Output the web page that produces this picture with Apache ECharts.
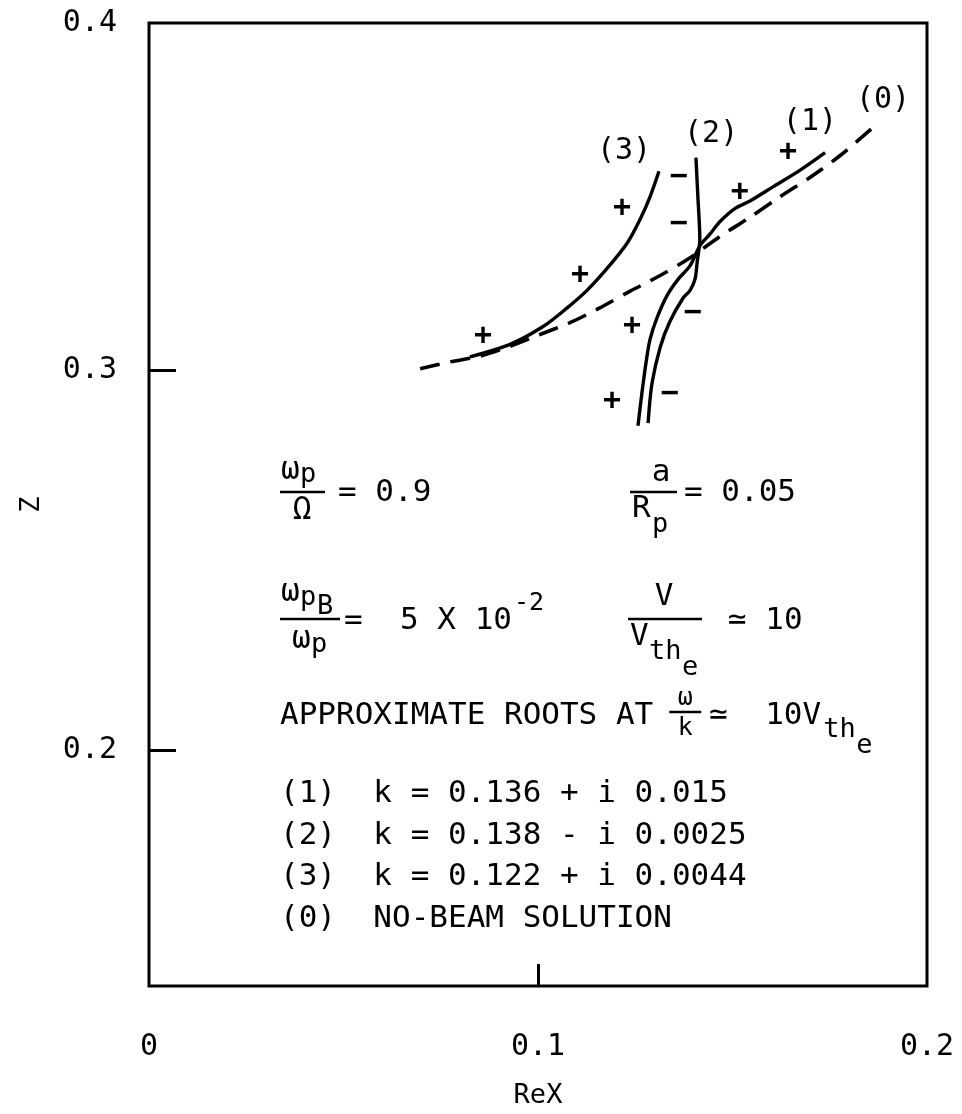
<!DOCTYPE html>
<html>
<head>
<meta charset="utf-8">
<script src="https://cdn.jsdelivr.net/npm/echarts@6/dist/echarts.min.js"></script>
<style>
  html, body { margin: 0; padding: 0; background: #fff; }
  #chart { width: 962px; height: 1114px; }
</style>
</head>
<body>
<div id="chart"></div>
<script>
// Axis ranges and tick labels
const X_MIN = 0, X_MAX = 0.2;
const Y_MIN = 0.138, Y_MAX = 0.3912;
const xTickValues = [0, 0.1, 0.2];
const xTickLabels = ['0', '0.1', '0.2'];
const xTickMarks = [0.1];
const yTickValues = [0.2, 0.3, Y_MAX];
const yTickLabels = ['0.2', '0.3', '0.4'];
const yTickMarks = [0.2, 0.3];

// (0) no-beam solution, dashed
const curve0 = [
  [0.0697, 0.3003], [0.0774, 0.3021], [0.0851, 0.3036], [0.0928, 0.3062],
  [0.1005, 0.3093], [0.1082, 0.3124], [0.1159, 0.3163], [0.1237, 0.3207],
  [0.1314, 0.3248], [0.1391, 0.3295], [0.1468, 0.3351], [0.1545, 0.3401],
  [0.1622, 0.3455], [0.1699, 0.3506], [0.1776, 0.3563], [0.1875, 0.3650]
];
// (1) root k = 0.136 + i 0.015
const curve1 = [
  [0.1257, 0.2853], [0.1267, 0.2938], [0.1278, 0.3021], [0.1288, 0.3080],
  [0.1306, 0.3137], [0.1332, 0.3196], [0.1360, 0.3238], [0.1391, 0.3274],
  [0.1416, 0.3326], [0.1442, 0.3357], [0.1468, 0.3390], [0.1506, 0.3424],
  [0.1545, 0.3444], [0.1604, 0.3481], [0.1674, 0.3525], [0.1738, 0.3571]
];
// (2) root k = 0.138 - i 0.0025
const curve2 = [
  [0.1406, 0.3558], [0.1411, 0.3455], [0.1416, 0.3344], [0.1409, 0.3282],
  [0.1404, 0.3240], [0.1391, 0.3209], [0.1373, 0.3189], [0.1339, 0.3127],
  [0.1314, 0.3059], [0.1293, 0.2964], [0.1283, 0.2860]
];
// (3) root k = 0.122 + i 0.0044
const curve3 = [
  [0.0825, 0.3034], [0.0928, 0.3067], [0.1013, 0.3114], [0.1075, 0.3163],
  [0.1126, 0.3209], [0.1177, 0.3266], [0.1229, 0.3333], [0.1262, 0.3395],
  [0.1288, 0.3455], [0.1311, 0.3522]
];
// sign marks beside the branches
const plusSigns = [
  [0.1216, 0.3424], [0.1108, 0.3248], [0.0859, 0.3088], [0.1242, 0.3114],
  [0.1190, 0.2917], [0.1519, 0.3468], [0.1643, 0.3571]
];
const minusSigns = [
  [0.1362, 0.3506], [0.1362, 0.3382], [0.1398, 0.3150], [0.1339, 0.2935]
];
// branch tags
const tagNames = ['(3)', '(2)', '(1)', '(0)'];
const tagPositions = [[0.1221, 0.3576], [0.1445, 0.3620], [0.1699, 0.3651], [0.1887, 0.3708]];

const MONO = '"DejaVu Sans Mono", monospace';

function pickLabel(values, labels) {
  return function (v) {
    for (let i = 0; i < values.length; i++) {
      if (Math.abs(values[i] - v) < 1e-6) return labels[i];
    }
    return '';
  };
}

// Annotation block helpers (pixel layout)
function T(x, y, text, size, align) {
  return {
    type: 'text', x: x, y: y, silent: true,
    style: {
      text: text, fill: '#000', font: size + 'px ' + MONO,
      align: align || 'left', verticalAlign: 'middle'
    }
  };
}
function Bar(x1, x2, y) {
  return {
    type: 'line', silent: true,
    shape: { x1: x1, y1: y, x2: x2, y2: y },
    style: { stroke: '#000', lineWidth: 2.5 }
  };
}

const FS = 31;          // main annotation size
const SUB = 27;         // subscript size
const PITCH = 18.66;    // advance of one character at FS
const L = 280;
const rowA = 492, rowB = 619, rowC = 716;
const rows = [794, 836, 877, 919];
const rootLines = [
  '(1)  k = 0.136 + i 0.015',
  '(2)  k = 0.138 - i 0.0025',
  '(3)  k = 0.122 + i 0.0044',
  '(0)  NO-BEAM SOLUTION'
];

const notes = [];
// ωp / Ω = 0.9
notes.push(T(L + 1, rowA - 21, 'ω', FS), T(L + 20, rowA - 17, 'p', SUB));
notes.push(Bar(L, L + 45, rowA));
notes.push(T(L + 22, rowA + 19, 'Ω', FS, 'center'));
notes.push(T(L + 58, rowA + 1, '= 0.9', FS));
// a / Rp = 0.05
const aL = 630;
notes.push(T(aL + 31, rowA - 19, 'a', FS, 'center'));
notes.push(Bar(aL, aL + 47, rowA));
notes.push(T(aL + 2, rowA + 17, 'R', FS), T(aL + 22, rowA + 33, 'p', SUB));
notes.push(T(aL + 54, rowA + 1, '= 0.05', FS));
// ωpB / ωp = 5 X 10^-2
notes.push(T(L + 1, rowB - 26, 'ω', FS), T(L + 20, rowB - 21, 'p', SUB), T(L + 37, rowB - 12, 'B', SUB));
notes.push(Bar(L, L + 60, rowB));
notes.push(T(L + 12, rowB + 21, 'ω', FS), T(L + 31, rowB + 26, 'p', SUB));
notes.push(T(L + 64, rowB + 2, '=  5 X 10', FS));
notes.push(T(L + 64 + 9 * PITCH + 2, rowB - 16, '-2', 25));
// V / Vthe ≃ 10
const vL = 628;
notes.push(T(vL + 36, rowB - 22, 'V', FS, 'center'));
notes.push(Bar(vL, vL + 74, rowB));
notes.push(T(vL + 2, rowB + 18, 'V', FS), T(vL + 21, rowB + 33, 'th', SUB), T(vL + 54, rowB + 49, 'e', SUB));
notes.push(T(vL + 100, rowB + 2, '≃ 10', FS));
// APPROXIMATE ROOTS AT ω/k ≃ 10 Vthe
notes.push(T(L, rowC, 'APPROXIMATE ROOTS AT', FS));
const fL = L + 20 * PITCH + 16;
notes.push(T(fL + 16, rowC - 18, 'ω', 25, 'center'));
notes.push(Bar(fL, fL + 32, rowC - 4));
notes.push(T(fL + 16, rowC + 12, 'k', 25, 'center'));
const eqL = fL + 40;
notes.push(T(eqL, rowC, '≃  10V', FS));
notes.push(T(eqL + 6 * PITCH + 2, rowC + 14, 'th', SUB), T(eqL + 6 * PITCH + 35, rowC + 30, 'e', SUB));
// root list
rootLines.forEach(function (s, i) { notes.push(T(L, rows[i], s, FS)); });

function signSeries(data, sign) {
  return {
    type: 'scatter', data: data, symbolSize: 0, silent: true,
    itemStyle: { color: '#000', opacity: 1 },
    label: {
      show: true, position: 'inside', formatter: sign,
      fontFamily: MONO, fontSize: 30, fontWeight: 'bold', color: '#000',
      textBorderWidth: 0, opacity: 1
    },
    z: 5
  };
}

const chart = echarts.init(document.getElementById('chart'), null, { renderer: 'canvas' });
chart.setOption({
  animation: false,
  backgroundColor: '#fff',
  grid: {
    left: 149, top: 23, width: 778, height: 980,
    show: true, borderColor: '#000', borderWidth: 3, backgroundColor: 'transparent'
  },
  xAxis: {
    type: 'value', min: X_MIN, max: X_MAX,
    name: 'ReX', nameLocation: 'middle', nameGap: 96,
    nameTextStyle: { fontFamily: MONO, fontSize: 27, color: '#000' },
    axisLine: { show: false },
    splitLine: { show: false },
    axisTick: {
      show: true, inside: true, length: 22, customValues: xTickMarks,
      lineStyle: { color: '#000', width: 3 }
    },
    axisLabel: {
      show: true, customValues: xTickValues, margin: 46,
      formatter: pickLabel(xTickValues, xTickLabels),
      fontFamily: MONO, fontSize: 30, color: '#000'
    }
  },
  yAxis: {
    type: 'value', min: Y_MIN, max: Y_MAX,
    name: 'Z', nameLocation: 'middle', nameGap: 104, nameRotate: 90,
    nameTextStyle: { fontFamily: MONO, fontSize: 27, color: '#000' },
    axisLine: { show: false },
    splitLine: { show: false },
    axisTick: {
      show: true, inside: true, length: 27, customValues: yTickMarks,
      lineStyle: { color: '#000', width: 3 }
    },
    axisLabel: {
      show: true, customValues: yTickValues, margin: 32,
      formatter: pickLabel(yTickValues, yTickLabels),
      fontFamily: MONO, fontSize: 30, color: '#000'
    }
  },
  series: [
    {
      name: '(0)', type: 'line', data: curve0, showSymbol: false, smooth: 0.3,
      lineStyle: { color: '#000', width: 3.6, type: [20, 11] }, silent: true
    },
    {
      name: '(1)', type: 'line', data: curve1, showSymbol: false, smooth: 0.3,
      lineStyle: { color: '#000', width: 3.4 }, silent: true
    },
    {
      name: '(2)', type: 'line', data: curve2, showSymbol: false, smooth: 0.3,
      lineStyle: { color: '#000', width: 3.4 }, silent: true
    },
    {
      name: '(3)', type: 'line', data: curve3, showSymbol: false, smooth: 0.3,
      lineStyle: { color: '#000', width: 3.4 }, silent: true
    },
    signSeries(plusSigns, '+'),
    signSeries(minusSigns, '\u2212'),
    {
      type: 'scatter', symbolSize: 0, silent: true,
      itemStyle: { color: '#000', opacity: 1 },
      data: tagPositions.map(function (p, i) { return { name: tagNames[i], value: p }; }),
      label: {
        show: true, position: 'inside', formatter: '{b}',
        fontFamily: MONO, fontSize: 30, color: '#000', textBorderWidth: 0, opacity: 1
      }
    }
  ],
  graphic: notes
});
</script>
</body>
</html>
